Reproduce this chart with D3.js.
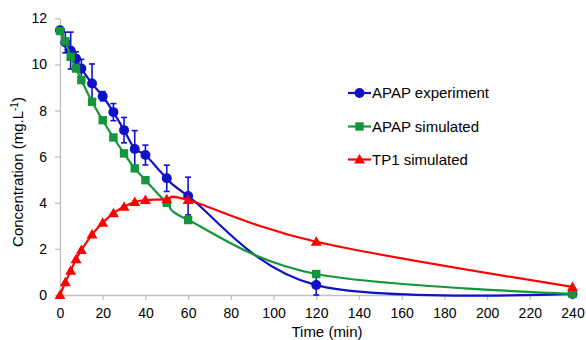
<!DOCTYPE html>
<html><head><meta charset="utf-8">
<script src="https://cdn.jsdelivr.net/npm/d3@7"></script>
<style>body{margin:0;background:#fff}svg{display:block}text{font-family:"Liberation Sans",Arial,sans-serif;fill:#000}</style>
</head><body>
<svg id="c" width="586" height="340"></svg>
<script>
const times = [0, 2.5, 5, 7.5, 10, 15, 20, 25, 30, 35, 40, 50, 60, 120, 240];
const apapExp = [11.48, 10.95, 10.6, 10.25, 9.82, 9.17, 8.62, 7.93, 7.15, 6.33, 6.07, 5.06, 4.29, 0.43, 0.05];
const apapExpErr = [0.15, 0.45, 0.8, 0.3, 0.4, 0.85, 0.2, 0.37, 0.55, 0.8, 0.43, 0.57, 0.82, 0.45, 0.05];
const apapSim = [11.45, 11.0, 10.33, 9.82, 9.32, 8.38, 7.58, 6.83, 6.14, 5.49, 4.98, 4.0, 3.25, 0.91, 0.05];
const tp1Sim = [0, 0.55, 1.05, 1.55, 1.95, 2.62, 3.13, 3.55, 3.83, 4.03, 4.12, 4.15, 4.12, 2.31, 0.35];
const xTicks = [0, 20, 40, 60, 80, 100, 120, 140, 160, 180, 200, 220, 240];
const yTicks = [0, 2, 4, 6, 8, 10, 12];
const seriesNames = ["APAP experiment", "APAP simulated", "TP1 simulated"];
const seriesColors = ["#1010c8", "#14963a", "#ff0000"];

const svg = d3.select("#c");
const x = d3.scaleLinear().domain([0, 240]).range([60, 572.5]);
const y = d3.scaleLinear().domain([0, 12]).range([295, 18.3]);

// axes
const xAxis = svg.append("g").attr("transform", `translate(0,${y(0)})`)
  .call(d3.axisBottom(x).tickValues(xTicks).tickSize(5).tickPadding(5).tickSizeOuter(0));
const yAxis = svg.append("g").attr("transform", `translate(${x(0)},0)`)
  .call(d3.axisLeft(y).tickValues(yTicks).tickSize(5).tickPadding(8).tickSizeOuter(0));
[xAxis, yAxis].forEach(g => {
  g.select(".domain").attr("stroke", "#bfbfbf").attr("stroke-width", 1.3);
  g.selectAll(".tick line").attr("stroke", "#bfbfbf").attr("stroke-width", 1.3);
  g.selectAll(".tick text").attr("font-size", 14).attr("font-family", "Liberation Sans, Arial, sans-serif").attr("fill", "#000");
});
xAxis.selectAll(".tick text").attr("dy", "0.9em");

// axis titles
svg.append("text").attr("x", 327).attr("y", 337).attr("text-anchor", "middle")
  .attr("font-size", 15).text("Time (min)");
const yt = svg.append("text").attr("transform", "translate(23,172) rotate(-90)")
  .attr("text-anchor", "middle").attr("font-size", 15);
yt.append("tspan").text("Concentration (mg.L");
yt.append("tspan").attr("baseline-shift", "super").attr("font-size", 10).text("-1");
yt.append("tspan").text(")");

const line = d3.line().x(d => x(d[0])).y(d => y(d[1])).curve(d3.curveCardinal.tension(0));
const series = [apapExp, apapSim, tp1Sim];

function marker(g, kind, cx, cy, color) {
  if (kind === 0) g.append("circle").attr("cx", cx).attr("cy", cy).attr("r", 5).attr("fill", color);
  else if (kind === 1) g.append("rect").attr("x", cx - 4.2).attr("y", cy - 4.2).attr("width", 8.4).attr("height", 8.4).attr("fill", color);
  else g.append("path").attr("d", `M${cx},${cy - 5.5}L${cx + 5.5},${cy + 4}L${cx - 5.5},${cy + 4}Z`).attr("fill", color);
}

series.forEach((vals, si) => {
  const g = svg.append("g");
  const pts = times.map((t, i) => [t, vals[i]]);
  g.append("path").attr("d", line(pts)).attr("fill", "none")
    .attr("stroke", seriesColors[si]).attr("stroke-width", 2.2);
  if (si === 0) {
    times.forEach((t, i) => {
      const e = apapExpErr[i];
      const xx = x(t), y1 = y(vals[i] + e), y2 = y(Math.max(0, vals[i] - e));
      g.append("line").attr("x1", xx).attr("x2", xx).attr("y1", y1).attr("y2", y2)
        .attr("stroke", seriesColors[0]).attr("stroke-width", 1.6);
      g.append("line").attr("x1", xx - 3).attr("x2", xx + 3).attr("y1", y1).attr("y2", y1)
        .attr("stroke", seriesColors[0]).attr("stroke-width", 1.6);
      g.append("line").attr("x1", xx - 3).attr("x2", xx + 3).attr("y1", y2).attr("y2", y2)
        .attr("stroke", seriesColors[0]).attr("stroke-width", 1.6);
    });
  }
  pts.forEach(p => marker(g, si, x(p[0]), y(p[1]), seriesColors[si]));
});

// legend
const legY = [93, 126.5, 159.5];
seriesNames.forEach((name, i) => {
  const g = svg.append("g");
  g.append("line").attr("x1", 348).attr("x2", 371).attr("y1", legY[i]).attr("y2", legY[i])
    .attr("stroke", seriesColors[i]).attr("stroke-width", 2.2);
  marker(g, i, 359.5, legY[i], seriesColors[i]);
  g.append("text").attr("x", 372).attr("y", legY[i] + 5.3).attr("font-size", 15).text(name);
});
</script>
</body></html>
